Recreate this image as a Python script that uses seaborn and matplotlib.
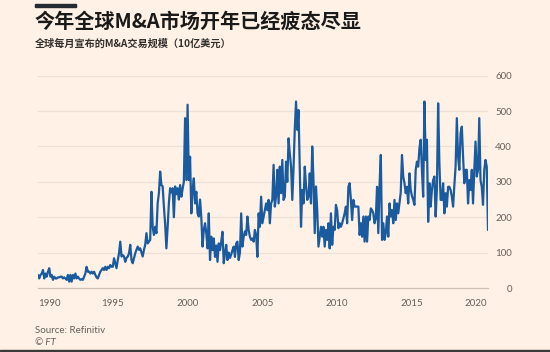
import numpy as np
import pandas as pd
import matplotlib
matplotlib.use("Agg")
import matplotlib.pyplot as plt
from matplotlib.patches import Rectangle
import seaborn as sns

# Monthly announced M&A volume ($bn), Jan 1990 - Feb 2020
v1990s = [
    37, 27, 37, 41, 51, 27, 41, 32, 46, 56, 32, 37,
    23, 32, 27, 27, 30, 30, 32, 32, 27, 30, 27, 23,
    37, 18, 37, 18, 37, 27, 41, 27, 32, 27, 23, 25,
    23, 32, 41, 60, 46, 46, 41, 46, 41, 46, 37, 30,
    27, 37, 46, 51, 56, 51, 60, 51, 60, 56, 65, 60,
    60, 84, 70, 56, 79, 98, 131, 89, 93, 89, 74, 85,
    89, 98, 122, 79, 70, 84, 98, 108, 117, 108, 112, 100,
    89, 108, 122, 155, 126, 131, 136, 272, 173, 150, 173, 155,
    240, 268, 329, 291, 287, 230, 180, 112, 173, 240, 282, 270,
    282, 200, 287, 265, 282, 250, 291, 258, 280, 300, 480, 305,
]
v2000s = [
    518, 305, 371, 211, 277, 310, 239, 272, 211, 202, 250, 200,
    117, 164, 183, 155, 112, 211, 79, 145, 107, 140, 88, 120,
    74, 126, 107, 131, 159, 70, 98, 122, 79, 100, 85, 95,
    107, 117, 88, 126, 131, 79, 100, 211, 117, 145, 160, 150,
    202, 164, 145, 136, 140, 131, 164, 150, 88, 211, 173, 258,
    183, 202, 220, 239, 220, 249, 183, 239, 249, 348, 230, 260,
    334, 239, 343, 268, 362, 249, 258, 357, 300, 423, 380, 343,
    249, 340, 450, 527, 447, 503, 343, 173, 277, 239, 343, 290,
    249, 258, 324, 239, 400, 305, 155, 287, 220, 117, 145, 173,
    145, 173, 117, 164, 136, 183, 112, 211, 122, 173, 164, 235,
]
v2010s = [
    220, 169, 183, 173, 183, 197, 211, 230, 183, 286, 296, 250,
    192, 249, 230, 230, 230, 230, 150, 183, 145, 202, 131, 202,
    131, 202, 192, 225, 220, 211, 183, 197, 286, 155, 290, 376,
    136, 183, 136, 155, 202, 145, 239, 202, 220, 183, 249, 192,
    239, 211, 240, 270, 376, 315, 296, 268, 286, 239, 324, 277,
    260, 249, 235, 334, 357, 343, 395, 419, 334, 258, 527, 362,
    419, 187, 296, 230, 277, 305, 315, 202, 277, 522, 353, 249,
    249, 296, 211, 268, 230, 286, 286, 277, 258, 230, 290, 343,
    480, 371, 334, 437, 456, 371, 296, 334, 334, 239, 305, 277,
    334, 239, 334, 414, 315, 334, 480, 305, 286, 235, 334, 362,
]
v2020 = [343, 164]

start_year = 1990
year_ticks = list(range(1990, 2021))
year_labels = ["1990", "1995", "2000", "2005", "2010", "2015", "2020"]
y_ticks = [0, 100, 200, 300, 400, 500, 600]

title = "今年全球M&A市场开年已经疲态尽显"
subtitle = "全球每月宣布的M&A交易规模（10亿美元）"
source = "Source: Refinitiv"
credit = "© FT"

values = v1990s + v2000s + v2010s + v2020
df = pd.DataFrame({
    "t": start_year + np.arange(len(values)) / 12.0,
    "value": values,
})

BG = "#FFF1E5"
GRID = "#EDE1D6"
AXIS = "#CCC1B7"
TXT = "#66605C"
LINE = "#1A5A9E"

sns.set_theme(style="white")
plt.rcParams["font.family"] = ["Noto Sans CJK SC", "DejaVu Sans"]

fig = plt.figure(figsize=(5.5, 3.52), dpi=100, facecolor=BG)
W, H = 550, 352
ax = fig.add_axes([38 / W, 1 - 288 / H, (488 - 38) / W, (288 - 75.7) / H])
ax.set_facecolor(BG)

sns.lineplot(data=df, x="t", y="value", ax=ax, color=LINE, linewidth=1.6)

ax.set_xlim(df["t"].iloc[0], df["t"].iloc[-1])
ax.set_ylim(0, 600)

for s in ["top", "left", "right"]:
    ax.spines[s].set_visible(False)
ax.spines["bottom"].set_color(AXIS)
ax.spines["bottom"].set_linewidth(0.9)

# gridlines
ax.set_yticks(y_ticks)
for yv in y_ticks[1:]:
    ax.axhline(yv, color=GRID, linewidth=0.9, zorder=0)

ax.yaxis.tick_right()
ax.tick_params(axis="y", length=0, pad=17.3, labelsize=7, labelcolor=TXT)
ax.set_yticklabels([str(v) for v in y_ticks], fontfamily="Lato")
for lab in ax.get_yticklabels():
    lab.set_horizontalalignment("right")

ax.set_xticks(year_ticks)
xl = [str(y) if str(y) in year_labels else "" for y in year_ticks]
ax.set_xticklabels(xl, fontfamily="Lato")
ax.tick_params(axis="x", length=4.3, width=0.8, color=AXIS, pad=3.5,
               labelsize=7, labelcolor=TXT, direction="out")
labs = ax.get_xticklabels()
labs[0].set_horizontalalignment("left")
labs[-1].set_horizontalalignment("right")

ax.set_xlabel("")
ax.set_ylabel("")

# header
fig.patches.append(Rectangle((35 / W, 1 - 6.5 / H), 41 / W, 2.5 / H,
                             transform=fig.transFigure, color="#262A33"))
fig.text(35 / W, 1 - 28 / H, title, fontsize=14.5, fontweight="bold",
         color="#1A1A1A", va="baseline", ha="left")
fig.text(35 / W, 1 - 47 / H, subtitle, fontsize=7.3, fontweight="bold",
         color="#33302E", va="baseline", ha="left")

# footer
fig.text(35 / W, 1 - 333 / H, source, fontsize=7, color=TXT,
         va="baseline", ha="left", fontfamily="Lato")
fig.text(35 / W, 1 - 345 / H, credit, fontsize=7, color=TXT, style="italic",
         va="baseline", ha="left", fontfamily="Lato")
fig.patches.append(Rectangle((0, 0), 1, 2.5 / H, transform=fig.transFigure,
                             color="#3A3A3A"))

fig.savefig("out.png", dpi=100, facecolor=BG)
